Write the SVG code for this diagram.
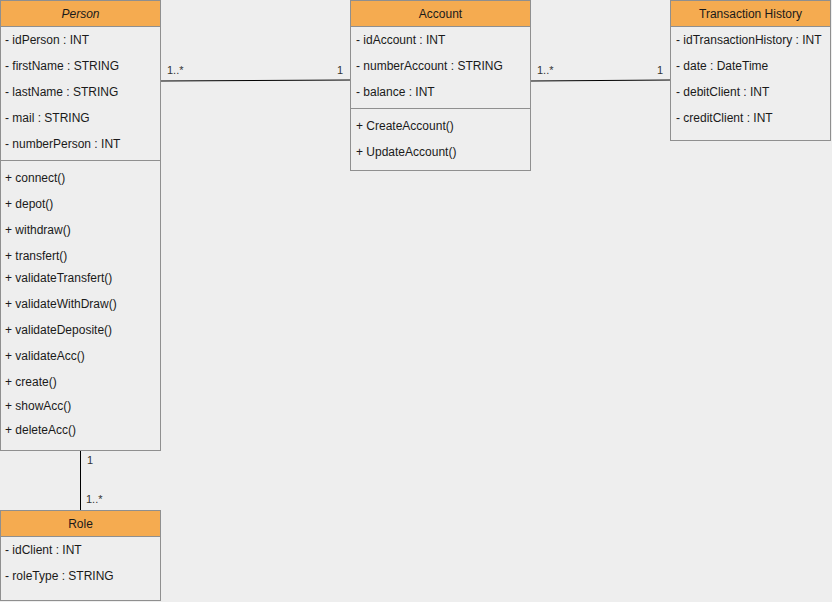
<svg xmlns="http://www.w3.org/2000/svg" width="832" height="602" viewBox="0 0 832 602">
<style>
text{font-family:"Liberation Sans",Arial,Helvetica,sans-serif;font-size:12px;fill:#1a1a1a}
.box{fill:#eeeeee;stroke:#8f8f8f;stroke-width:1}
.hdr{fill:#f5ab50;stroke:#8f8f8f;stroke-width:1}
.sep{stroke:#8f8f8f;stroke-width:1}
.t{text-anchor:middle}
.edge{stroke:#000;stroke-width:1;fill:none}
.lbl{font-size:11px;fill:#333}
</style>
<rect x="0" y="0" width="832" height="602" fill="#eeeeee"/>
<g id="connectors">
<path class="edge" d="M160.5 81 L350.5 80"/>
<text class="lbl" x="167" y="74">1..*</text>
<text class="lbl" x="337" y="74">1</text>
<path class="edge" d="M530.5 81 L670.5 80"/>
<text class="lbl" x="537" y="74">1..*</text>
<text class="lbl" x="657" y="74">1</text>
<path class="edge" d="M80.5 450 L80.5 510"/>
<text class="lbl" x="87" y="464">1</text>
<text class="lbl" x="86" y="503">1..*</text>
</g>
<g id="person">
<rect class="box" x="0.5" y="0.5" width="160" height="450"/>
<rect class="hdr" x="0.5" y="0.5" width="160" height="26"/>
<text class="t" x="80.5" y="18" font-style="italic">Person</text>
<text x="5" y="44">- idPerson : INT</text>
<text x="5" y="70">- firstName : STRING</text>
<text x="5" y="96">- lastName : STRING</text>
<text x="5" y="122">- mail : STRING</text>
<text x="5" y="148">- numberPerson : INT</text>
<line class="sep" x1="0.5" y1="160.5" x2="160.5" y2="160.5"/>
<text x="5" y="182">+ connect()</text>
<text x="5" y="208">+ depot()</text>
<text x="5" y="234">+ withdraw()</text>
<text x="5" y="260">+ transfert()</text>
<text x="5" y="282">+ validateTransfert()</text>
<text x="5" y="308">+ validateWithDraw()</text>
<text x="5" y="334">+ validateDeposite()</text>
<text x="5" y="360">+ validateAcc()</text>
<text x="5" y="386">+ create()</text>
<text x="5" y="410">+ showAcc()</text>
<text x="5" y="434">+ deleteAcc()</text>
</g>
<g id="account">
<rect class="box" x="350.5" y="0.5" width="180" height="170"/>
<rect class="hdr" x="350.5" y="0.5" width="180" height="26"/>
<text class="t" x="440.5" y="18">Account</text>
<text x="356" y="44">- idAccount : INT</text>
<text x="356" y="70">- numberAccount : STRING</text>
<text x="356" y="96">- balance : INT</text>
<line class="sep" x1="350.5" y1="108.5" x2="530.5" y2="108.5"/>
<text x="356" y="130">+ CreateAccount()</text>
<text x="356" y="156">+ UpdateAccount()</text>
</g>
<g id="transaction-history">
<rect class="box" x="670.5" y="0.5" width="160" height="140"/>
<rect class="hdr" x="670.5" y="0.5" width="160" height="26"/>
<text class="t" x="750.5" y="18">Transaction History</text>
<text x="676" y="44">- idTransactionHistory : INT</text>
<text x="676" y="70">- date : DateTime</text>
<text x="676" y="96">- debitClient : INT</text>
<text x="676" y="122">- creditClient : INT</text>
</g>
<g id="role">
<rect class="box" x="0.5" y="510.5" width="160" height="90"/>
<rect class="hdr" x="0.5" y="510.5" width="160" height="26"/>
<text class="t" x="80.5" y="528">Role</text>
<text x="5" y="554">- idClient : INT</text>
<text x="5" y="580">- roleType : STRING</text>
</g>
</svg>
